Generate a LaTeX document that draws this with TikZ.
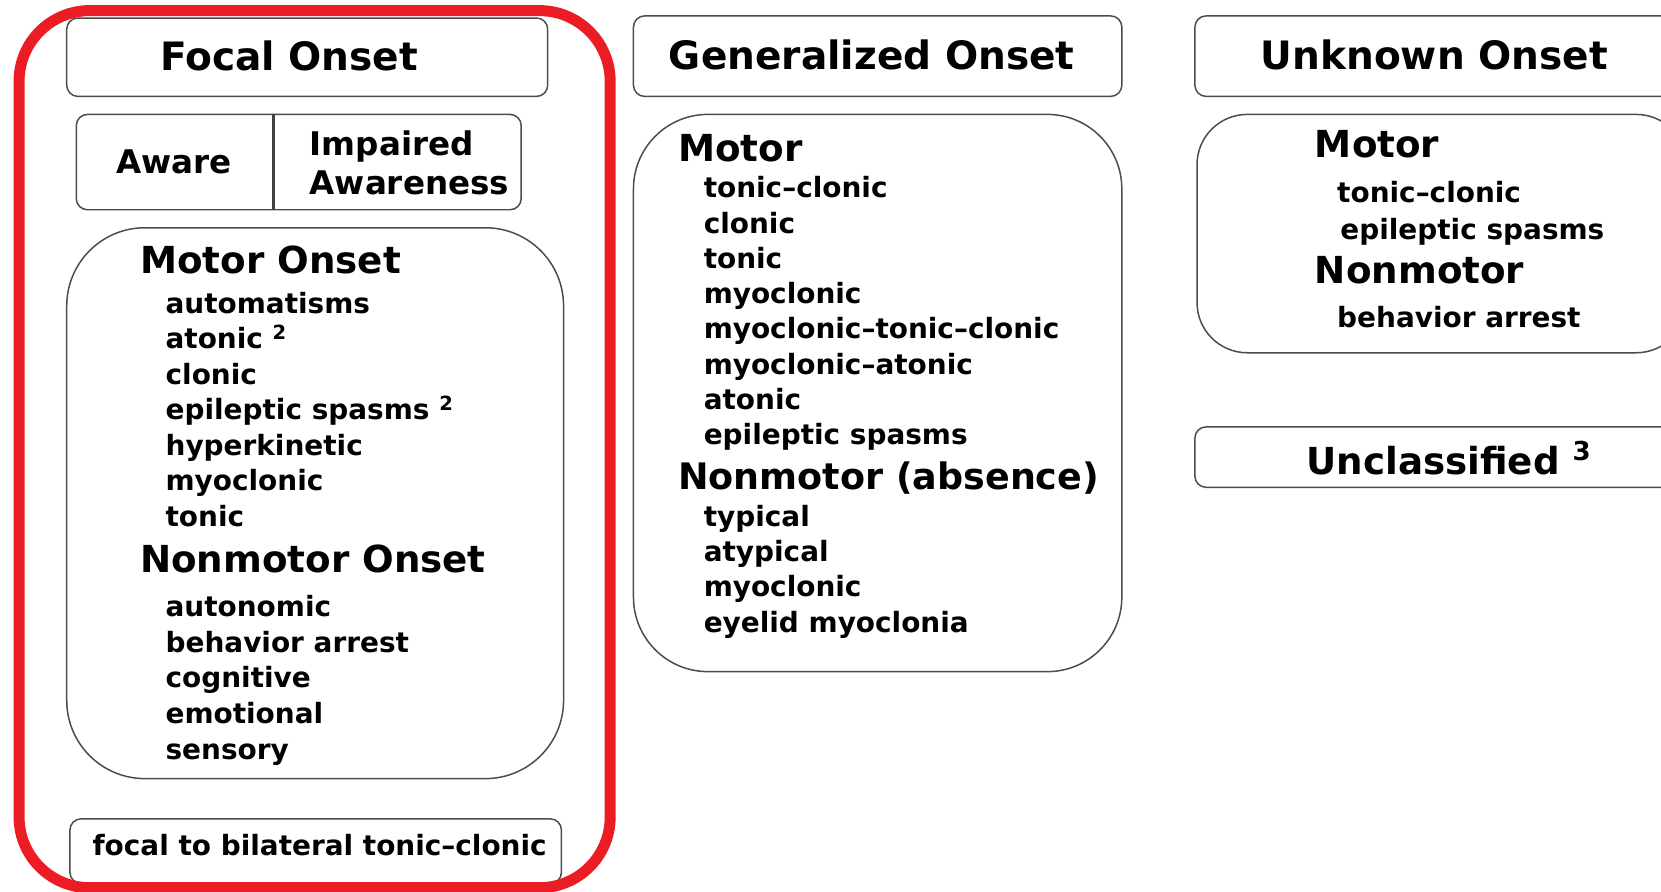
\documentclass[tikz,border=0pt]{standalone}
\usepackage{fontspec}
\setmainfont{DejaVu Sans}
\definecolor{framered}{RGB}{236,28,36}
\begin{document}
\begin{tikzpicture}[x=0.02cm, y=-0.02cm,
    box/.style={draw=black!70, line width=0.8pt, rounded corners=6pt},
    head/.style={font=\bfseries\fontsize{21}{25}\selectfont},
    sub/.style={anchor=mid west, inner sep=0pt, font=\bfseries\fontsize{20}{24}\selectfont},
    item/.style={anchor=mid west, inner sep=0pt, font=\bfseries\fontsize{15}{18}\selectfont}]
    \clip (0, 0) rectangle (1568, 842);
    \fill[white] (0, 0) rectangle (1568, 842);
    % focal onset column
    \draw[box] (63, 17) rectangle (517, 91);
    \node[head] (focal) at (273, 53) {Focal Onset};
    \draw[box] (72, 108) rectangle (492, 198);
    \draw[black!75, line width=1.6pt] (258, 108) -- (258, 198);
    \node[font=\bfseries\fontsize{17.5}{21}\selectfont] (aware) at (164, 153) {Aware};
    \node[anchor=west, inner sep=0pt, align=left, font=\bfseries\fontsize{17.5}{21}\selectfont] (impaired) at (292, 154) {Impaired\\Awareness};
    \draw[box, rounded corners=42pt] (63, 215) rectangle (532, 735);
    \node[sub] (fmotor) at (132, 253) {Motor Onset};
    \foreach \t [count=\i] in {automatisms, atonic \textsuperscript{2}, clonic, epileptic spasms \textsuperscript{2}, hyperkinetic, myoclonic, tonic}
      \node[item] (fm\i) at (156, 291+33.5*\i-33.5) {\t};
    \node[sub] (fnonmotor) at (132, 536) {Nonmotor Onset};
    \foreach \t [count=\i] in {autonomic, behavior arrest, cognitive, emotional, sensory}
      \node[item] (fn\i) at (156, 577+33.75*\i-33.75) {\t};
    \draw[box] (66, 773) rectangle (530, 834);
    \node[item] (bilateral) at (87, 803) {focal to bilateral tonic--clonic};
    \draw[framered, line width=5.9pt, rounded corners=38pt] (18, 10) rectangle (576, 838);
    % generalized onset column
    \draw[box] (598, 15) rectangle (1059, 91);
    \node[head] (general) at (823, 52) {Generalized Onset};
    \draw[box, rounded corners=40pt] (598, 108) rectangle (1059, 634);
    \node[sub] (gmotor) at (640, 148) {Motor};
    \foreach \t [count=\i] in {tonic--clonic, clonic, tonic, myoclonic, myoclonic--tonic--clonic, myoclonic--atonic, atonic, epileptic spasms}
      \node[item] (gm\i) at (664, 182+33.3*\i-33.3) {\t};
    \node[sub, font=\bfseries\fontsize{19.6}{24}\selectfont] (gnonmotor) at (640, 457) {Nonmotor (absence)};
    \foreach \t [count=\i] in {typical, atypical, myoclonic, eyelid myoclonia}
      \node[item] (gn\i) at (664, 492+33.3*\i-33.3) {\t};
    % unknown onset column
    \draw[box] (1128, 15) rectangle (1620, 91);
    \node[head] (unknown) at (1354, 52) {Unknown Onset};
    \draw[box, rounded corners=27pt] (1130, 108) rectangle (1592, 333);
    \node[sub] (umotor) at (1241, 144) {Motor};
    \node[item] (um1) at (1262, 186) {tonic--clonic};
    \node[item] (um2) at (1265, 221) {epileptic spasms};
    \node[sub] (unonmotor) at (1241, 263) {Nonmotor};
    \node[item] (un1) at (1262, 304) {behavior arrest};
    \draw[box] (1128, 403) rectangle (1620, 460);
    \node[font=\bfseries\fontsize{20}{24}\selectfont] (unclass) at (1368, 432) {Unclassified \textsuperscript{3}};
\end{tikzpicture}
\end{document}
